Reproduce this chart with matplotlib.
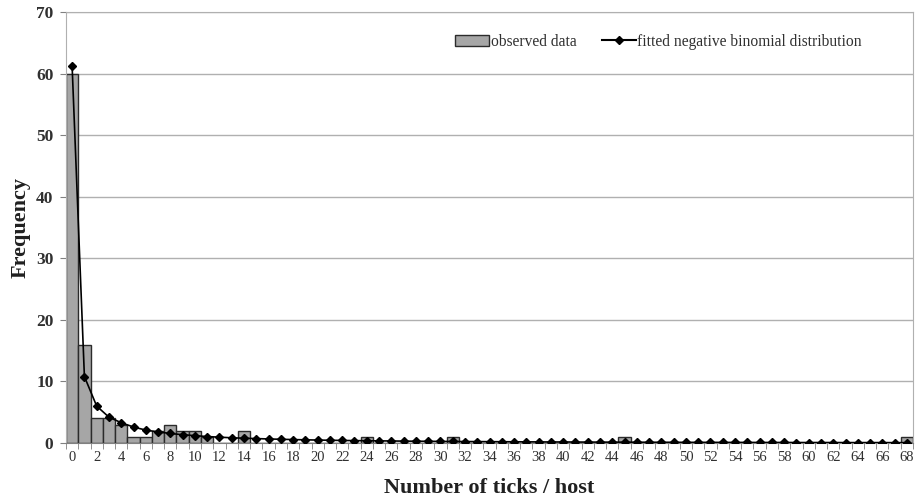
import numpy as np
import matplotlib
matplotlib.use("Agg")
import matplotlib.pyplot as plt
from matplotlib.lines import Line2D
from matplotlib.patches import Patch

plt.rcParams["font.family"] = ["Liberation Serif", "DejaVu Serif"]
plt.rcParams["text.color"] = "#303030"
plt.rcParams["axes.labelcolor"] = "#202020"
plt.rcParams["xtick.labelcolor"] = "#303030"
plt.rcParams["ytick.labelcolor"] = "#303030"

# ── data ────────────────────────────────────────────────
ticks_per_host = list(range(0, 69))

observed = [0] * 69
for k, v in {0: 60, 1: 16, 2: 4, 3: 4, 4: 3, 5: 1, 6: 1, 7: 2, 8: 3, 9: 2,
             10: 2, 11: 1, 14: 2, 24: 1, 31: 1, 45: 1, 68: 1}.items():
    observed[k] = v

fitted_nb = [61.2, 10.8, 6.0, 4.2, 3.3, 2.6, 2.1, 1.8, 1.55, 1.35,
             1.2, 1.05, 0.95, 0.85, 0.78, 0.72, 0.66, 0.61, 0.56, 0.52,
             0.48, 0.45, 0.42, 0.39, 0.37, 0.35, 0.33, 0.31, 0.29, 0.28,
             0.26, 0.25, 0.24, 0.23, 0.22, 0.21, 0.20, 0.19, 0.18, 0.17,
             0.17, 0.16, 0.15, 0.15, 0.14, 0.14, 0.13, 0.13, 0.12, 0.12,
             0.11, 0.11, 0.11, 0.10, 0.10, 0.10, 0.09, 0.09, 0.09, 0.08,
             0.08, 0.08, 0.08, 0.07, 0.07, 0.07, 0.07, 0.06, 0.06]

# ── plot ────────────────────────────────────────────────
fig = plt.figure(figsize=(9.19, 4.98), dpi=100)
ax = fig.add_axes([0.0718, 0.1104, 0.9217, 0.8655])

ax.bar(ticks_per_host, observed, width=1.0, color="#a6a6a6",
       edgecolor="#2b2b2b", linewidth=1.0, zorder=2)
ax.plot(ticks_per_host, fitted_nb, color="black", linewidth=1.2,
        marker="D", markersize=4.5, zorder=3)

ax.set_xlim(-0.5, 68.5)
ax.set_ylim(0, 70)
ax.set_yticks(range(0, 71, 10))
ax.yaxis.grid(True, color="#b0b0b0", linewidth=1.0, zorder=0)
ax.set_axisbelow(True)

ax.set_xticks(range(0, 69, 2))
ax.set_xticks(np.arange(-0.5, 69, 1), minor=True)
ax.tick_params(axis="x", which="major", length=0, labelsize=10.5, pad=6)
ax.tick_params(axis="x", which="minor", length=4, color="#808080")
ax.tick_params(axis="y", length=4, color="#808080", labelsize=12.5, pad=5)
for lab in ax.get_yticklabels():
    lab.set_fontweight("bold")

for s in ["left", "right", "top"]:
    ax.spines[s].set_color("#b0b0b0")
ax.spines["bottom"].set_color("#808080")

ax.set_ylabel("Frequency", fontsize=16, fontweight="bold", labelpad=4)
ax.set_xlabel("Number of ticks / host", fontsize=16, fontweight="bold", labelpad=10)

handles = [Patch(facecolor="#a6a6a6", edgecolor="#2b2b2b", label="observed data"),
           Line2D([], [], color="black", marker="D", markersize=4.5,
                  label="fitted negative binomial distribution")]
ax.legend(handles=handles, loc="center right", bbox_to_anchor=(0.938, 0.916),
          bbox_transform=fig.transFigure, borderpad=0, borderaxespad=0,
          ncol=2, frameon=False, fontsize=11.2, handlelength=2.2,
          handletextpad=0.1, columnspacing=1.6)

fig.savefig("out.png", dpi=100)
